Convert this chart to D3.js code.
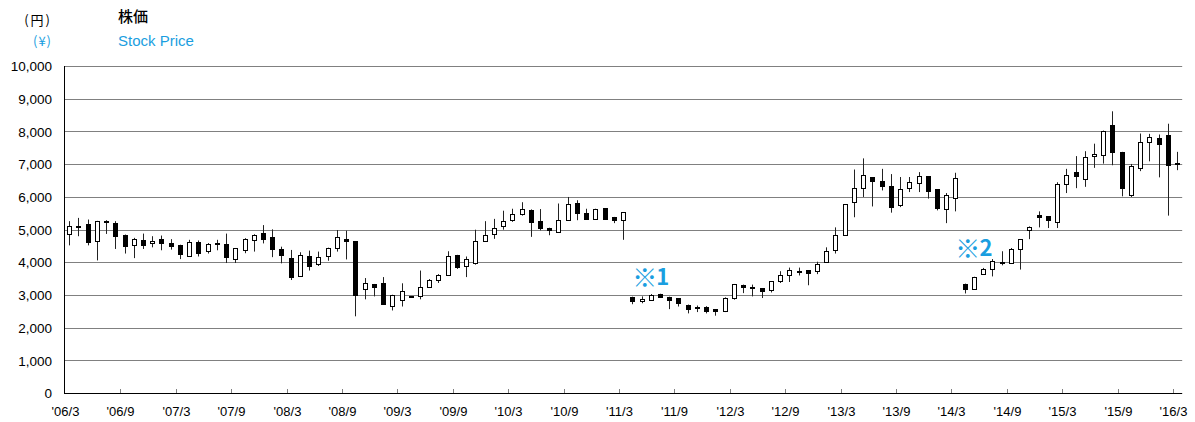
<!DOCTYPE html>
<html>
<head>
<meta charset="utf-8">
<script src="https://cdn.jsdelivr.net/npm/d3@7"></script>
<style>
  body { margin: 0; background: #fff; }
  svg { display: block; }
</style>
</head>
<body>
<div id="chart"></div>
<script>
// monthly candles, 2006/3 .. 2016/3 (121 months)
var openVals = [
  4890, 5090, 5180, 4650, 5240, 5210, 4840, 4550, 4680, 4600, 4740, 4590, 4540, 4220, 4640, 4350, 4600, 4580, 4120, 4390,
  4700, 4900, 4800, 4420, 4140, 3580, 4210, 3960, 4190, 4440, 4730, 4650, 3200, 3340, 3370, 2690, 2860, 2970, 2990, 3270,
  3480, 3630, 4240, 3910, 3990, 4670, 4880, 5110, 5300, 5500, 5620, 5270, 5060, 4940, 5320, 5830, 5520, 5340, 5660, 5400,
  5320, 2960, 2820, 2870, 3040, 2960, 2910, 2720, 2600, 2650, 2580, 2510, 2920, 3330, 3260, 3220, 3180, 3430, 3630, 3740,
  3770, 3750, 4030, 4400, 4850, 5850, 6280, 6620, 6500, 6340, 5750, 6280, 6440, 6640, 6250, 5650, 5980, 3360, 3210, 3650,
  3820, 4020, 3990, 4420, 5010, 5470, 5420, 5240, 6420, 6780, 6560, 7260, 7290, 8220, 7390, 6080, 6900, 7690, 7820, 7890,
  7050
];
var highVals = [
  5270, 5370, 5320, 5280, 5300, 5270, 4860, 4760, 4890, 4810, 4830, 4720, 4550, 4700, 4680, 4600, 4700, 4890, 4450, 4750,
  4870, 5150, 5020, 4490, 4390, 4320, 4370, 4340, 4460, 5000, 4980, 4660, 3530, 3350, 3560, 3020, 3370, 2980, 3760, 3500,
  3650, 4350, 4240, 4190, 5010, 5270, 5340, 5590, 5650, 5850, 5630, 5640, 5070, 5810, 6010, 5910, 5650, 5650, 5670, 5400,
  5540, 2960, 2970, 3040, 3050, 2960, 2910, 2720, 2690, 2670, 2580, 2940, 3350, 3330, 3330, 3220, 3430, 3740, 3850, 3850,
  3770, 4030, 4470, 5080, 5790, 6850, 7190, 6620, 6870, 6710, 6620, 6620, 6770, 6640, 6250, 6130, 6750, 3360, 3570, 3840,
  4110, 4350, 4450, 4720, 5110, 5570, 5420, 6460, 6870, 7260, 7410, 7640, 8040, 8630, 7390, 7020, 7950, 7940, 7920, 8250,
  7390
];
var lowVals = [
  4530, 4810, 4530, 4070, 4880, 4420, 4280, 4140, 4420, 4470, 4380, 4400, 4110, 4210, 4190, 4280, 4380, 3990, 3990, 4290,
  4340, 4590, 4170, 3980, 3470, 3580, 3760, 3900, 4060, 4340, 4100, 2360, 2880, 2970, 2740, 2540, 2660, 2930, 2880, 3230,
  3380, 3610, 3810, 3560, 3940, 4650, 4730, 5010, 5250, 5440, 4790, 4990, 4840, 4940, 5320, 5300, 5320, 5340, 5320, 5210,
  4700, 2730, 2760, 2850, 2940, 2580, 2660, 2450, 2490, 2450, 2380, 2490, 2870, 3070, 2970, 2920, 3090, 3380, 3410, 3610,
  3310, 3650, 4000, 4280, 4830, 5390, 6010, 5720, 6210, 5530, 5700, 6160, 6160, 5960, 5600, 5210, 5570, 3060, 3170, 3630,
  3580, 3920, 3970, 3790, 4720, 5080, 5060, 5060, 6130, 6280, 6320, 6900, 7030, 6980, 6030, 6010, 6800, 7100, 6610, 5440,
  6830
];
var closeVals = [
  5130, 5110, 4630, 5270, 5260, 4830, 4500, 4720, 4540, 4670, 4590, 4520, 4280, 4620, 4290, 4570, 4570, 4160, 4440, 4720,
  4850, 4730, 4410, 4240, 3560, 4230, 3910, 4170, 4440, 4780, 4650, 3020, 3390, 3260, 2740, 3000, 3120, 2950, 3270, 3470,
  3630, 4220, 3860, 4120, 4670, 4860, 5060, 5280, 5500, 5640, 5250, 5050, 4990, 5300, 5810, 5520, 5340, 5640, 5350, 5300,
  5540, 2820, 2900, 3020, 2960, 2870, 2780, 2590, 2630, 2510, 2530, 2920, 3350, 3260, 3240, 3140, 3430, 3610, 3770, 3730,
  3690, 3950, 4350, 4850, 5790, 6280, 6690, 6500, 6340, 5690, 6260, 6460, 6660, 6200, 5670, 6080, 6590, 3210, 3560, 3810,
  4040, 4000, 4420, 4720, 5090, 5390, 5320, 6420, 6670, 6640, 7220, 7330, 8040, 7380, 6290, 6970, 7690, 7840, 7640, 7000,
  7030
];

var tickLabels = ["'06/3", "'06/9", "'07/3", "'07/9", "'08/3", "'08/9", "'09/3", "'09/9", "'10/3", "'10/9", "'11/3",
  "'11/9", "'12/3", "'12/9", "'13/3", "'13/9", "'14/3", "'14/9", "'15/3", "'15/9", "'16/3"];
var yTicks = [0, 1000, 2000, 3000, 4000, 5000, 6000, 7000, 8000, 9000, 10000];

// notes for the price level breaks
var notes = [
  { mark: "※", num: "1", month: "2011/4", value: 3320 },
  { mark: "※", num: "2", month: "2014/3", value: 4210 }
];

var blue = "#1a9ee0";
var width = 1195, height = 422;

var months = d3.timeMonth.range(new Date(2006, 2, 1), new Date(2016, 3, 1)).map(function(d) {
  return d.getFullYear() + "/" + (d.getMonth() + 1);
});

var candles = months.map(function(m, i) {
  return { month: m, open: openVals[i], high: highVals[i], low: lowVals[i], close: closeVals[i] };
});

function labelToMonth(l) {
  var p = l.slice(1).split("/");
  return "20" + p[0] + "/" + p[1];
}

var x = d3.scaleBand().domain(months).range([65, 65 + months.length * 9.233]).paddingInner(0).paddingOuter(0);
var y = d3.scaleLinear().domain([0, 10000]).range([393.5, 66.5]);

var svg = d3.select("#chart").append("svg")
  .attr("width", width)
  .attr("height", height)
  .style("font-family", "'Liberation Sans', Arial, sans-serif");

// grid
svg.append("g").selectAll("line").data(yTicks.filter(function(d) { return d > 0; })).enter()
  .append("line")
  .attr("x1", 64.5).attr("x2", x.range()[1])
  .attr("y1", function(d) { return Math.round(y(d) - 0.5) + 0.5; })
  .attr("y2", function(d) { return Math.round(y(d) - 0.5) + 0.5; })
  .style("stroke", "#808080")
  .style("stroke-width", 1);

// y labels
svg.append("g").selectAll("text").data(yTicks).enter()
  .append("text")
  .attr("x", 52)
  .attr("y", function(d) { return y(d); })
  .attr("dy", "0.35em")
  .attr("text-anchor", "end")
  .style("font-size", "13.5px")
  .style("fill", "#000")
  .text(function(d) { return d3.format(",")(d); });

// axes lines
svg.append("line")
  .attr("x1", 64.5).attr("x2", 64.5).attr("y1", 66).attr("y2", 394)
  .style("stroke", "#000");
svg.append("line")
  .attr("x1", 64.5).attr("x2", x.range()[1]).attr("y1", 393.5).attr("y2", 393.5)
  .style("stroke", "#000");

// x ticks + labels
var xt = svg.append("g").selectAll("g").data(tickLabels).enter()
  .append("g")
  .attr("transform", function(d) { return "translate(" + (Math.round(x(labelToMonth(d))) + 0.5) + ",0)"; });
xt.filter(function(d, i) { return i > 0; })
  .append("line")
  .attr("y1", 389).attr("y2", 393)
  .style("stroke", "#808080");
xt.append("text")
  .attr("y", 416)
  .attr("text-anchor", "middle")
  .style("font-size", "13px")
  .style("fill", "#000")
  .text(function(d) { return d; });

// candles
var bw = x.bandwidth();
var c = svg.append("g").selectAll("g").data(candles).enter()
  .append("g")
  .attr("transform", function(d) { return "translate(" + (Math.floor(x(d.month) + bw / 2) + 0.5) + ",0)"; });

c.append("line")
  .attr("y1", function(d) { return y(d.high); })
  .attr("y2", function(d) { return y(d.low); })
  .style("stroke", "#222")
  .style("stroke-width", 1);

c.append("rect")
  .attr("x", -2)
  .attr("width", 4)
  .attr("y", function(d) { return Math.round(y(Math.max(d.open, d.close))) + 0.5; })
  .attr("height", function(d) {
    return Math.max(1, Math.round(y(Math.min(d.open, d.close))) - Math.round(y(Math.max(d.open, d.close))));
  })
  .style("fill", function(d) { return d.close < d.open ? "#000" : "#fff"; })
  .style("stroke", "#000")
  .style("stroke-width", 1);

// notes
var nt = svg.append("g").selectAll("text").data(notes).enter()
  .append("text")
  .attr("x", function(d) { return x(d.month) + 4; })
  .attr("y", function(d) { return y(d.value); })
  .style("font-family", "'Noto Sans CJK JP', sans-serif")
  .style("font-weight", "bold")
  .style("fill", blue);
nt.append("tspan")
  .style("font-size", "25px")
  .attr("dy", 2)
  .text(function(d) { return d.mark; });
nt.append("tspan")
  .style("font-size", "22px")
  .attr("dx", -1)
  .attr("dy", -2)
  .text(function(d) { return d.num; });

// header
svg.append("text")
  .attr("x", 52).attr("y", 25)
  .attr("text-anchor", "end")
  .style("font-family", "'Noto Sans CJK JP', sans-serif")
  .style("font-size", "13px")
  .style("letter-spacing", "2px")
  .text("(円)");
svg.append("text")
  .attr("x", 52).attr("y", 46)
  .attr("text-anchor", "end")
  .style("font-family", "'Noto Sans CJK JP', sans-serif")
  .style("font-size", "13px")
  .style("letter-spacing", "1px")
  .style("fill", blue)
  .text("(¥)");
svg.append("text")
  .attr("x", 118).attr("y", 22)
  .style("font-family", "'Noto Sans CJK JP', sans-serif")
  .style("font-size", "15px")
  .style("font-weight", "500")
  .text("株価");
svg.append("text")
  .attr("x", 118).attr("y", 46)
  .style("font-size", "15px")
  .style("fill", blue)
  .text("Stock Price");
</script>
</body>
</html>
